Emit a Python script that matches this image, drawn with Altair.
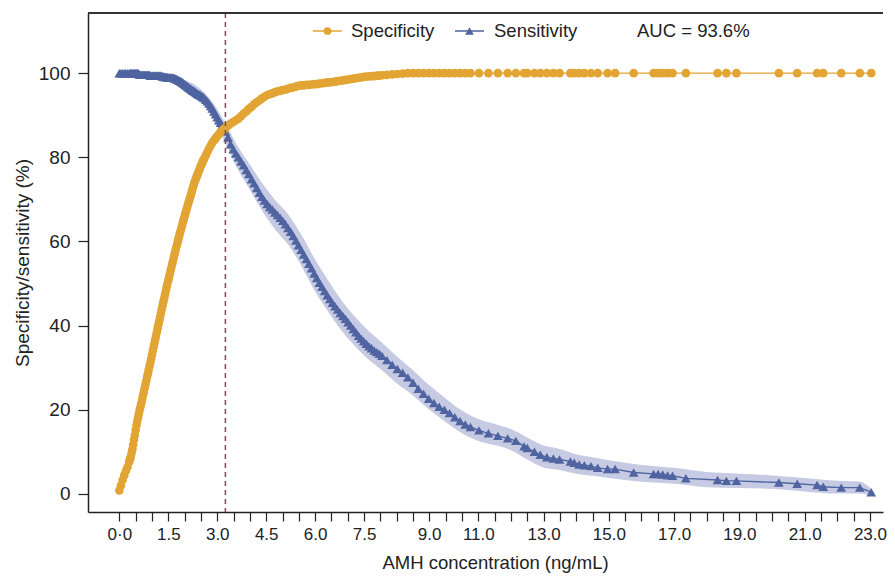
import altair as alt
import pandas as pd

# ---------------- data ----------------
cutoff = [
    0.00, 0.05, 0.10, 0.15, 0.20, 0.25, 0.30, 0.35, 0.40, 0.45,
    0.50, 0.55, 0.60, 0.65, 0.70, 0.75, 0.80, 0.85, 0.90, 0.95,
    1.00, 1.05, 1.10, 1.15, 1.20, 1.25, 1.30, 1.35, 1.40, 1.45,
    1.50, 1.55, 1.60, 1.65, 1.70, 1.75, 1.80, 1.85, 1.90, 1.95,
    2.00, 2.05, 2.10, 2.15, 2.20, 2.25, 2.30, 2.35, 2.40, 2.45,
    2.50, 2.55, 2.60, 2.65, 2.70, 2.75, 2.80, 2.85, 2.90, 2.95,
    3.00, 3.05, 3.10, 3.15, 3.20, 3.25,
    3.33, 3.41, 3.49, 3.57, 3.65, 3.73, 3.81, 3.89, 3.97, 4.05,
    4.13, 4.21, 4.29, 4.37, 4.45, 4.53, 4.61, 4.69, 4.77, 4.85,
    4.93, 5.01, 5.09, 5.17, 5.25, 5.33, 5.41, 5.49, 5.57, 5.65,
    5.73, 5.81, 5.89, 5.97, 6.05, 6.13, 6.21, 6.29, 6.37, 6.45,
    6.53, 6.61, 6.69, 6.77, 6.85, 6.93, 7.01, 7.09, 7.17, 7.25,
    7.33, 7.41, 7.49, 7.57, 7.65, 7.73, 7.81, 7.89, 7.97, 8.05,
    8.20, 8.36, 8.52, 8.68, 8.84, 9.00, 9.16, 9.32, 9.48, 9.64,
    9.80, 9.96, 10.12, 10.28, 10.44, 10.60, 10.76, 11.02, 11.31, 11.60,
    11.90, 12.15, 12.40, 12.50, 12.72, 12.90, 13.10, 13.30,
    13.49, 13.82, 13.94, 14.09, 14.25, 14.45, 14.66, 14.96, 15.19, 15.76,
    16.37, 16.51, 16.65, 16.80, 16.95, 17.36, 18.33, 18.60, 18.91, 20.21,
    20.77, 21.38, 21.57, 22.12, 22.69, 23.04,
]

specificity = [
    0.8, 2.0, 3.3, 4.4, 5.5, 6.4, 7.6, 8.8, 10.6, 12.9,
    15.2, 17.3, 19.1, 20.8, 22.5, 24.2, 26.0, 27.8, 29.5, 31.2,
    33.0, 34.9, 36.7, 38.5, 40.3, 42.1, 43.9, 45.7, 47.4, 49.1,
    50.8, 52.4, 54.0, 55.6, 57.2, 58.8, 60.3, 61.8, 63.2, 64.6,
    66.0, 67.4, 68.7, 70.0, 71.3, 72.7, 74.0, 75.0, 76.0, 77.0,
    78.0, 78.9, 79.7, 80.5, 81.3, 82.1, 82.8, 83.5, 84.0, 84.5,
    85.0, 85.5, 85.9, 86.3, 86.7, 87.0,
    87.5, 88.0, 88.4, 88.8, 89.2, 89.8, 90.4, 90.9, 91.5, 92.0,
    92.6, 93.1, 93.5, 94.0, 94.4, 94.8, 95.0, 95.2, 95.5, 95.7,
    95.8, 96.0, 96.1, 96.3, 96.5, 96.6, 96.8, 97.0, 97.1, 97.1,
    97.2, 97.2, 97.3, 97.4, 97.4, 97.5, 97.6, 97.7, 97.8, 97.8,
    97.9, 98.0, 98.1, 98.2, 98.3, 98.4, 98.5, 98.6, 98.7, 98.8,
    98.9, 99.0, 99.1, 99.2, 99.2, 99.3, 99.3, 99.4, 99.4, 99.5,
    99.6, 99.7, 99.8, 99.9, 100, 100, 100, 100, 100, 100,
    100, 100, 100, 100, 100, 100, 100, 100, 100, 100,
    100, 100, 100, 100, 100, 100, 100, 100,
    100, 100, 100, 100, 100, 100, 100, 100, 100, 100,
    100, 100, 100, 100, 100, 100, 100, 100, 100, 100,
    100, 100, 100, 100, 100, 100,
]

sensitivity = [
    100, 100, 100, 100, 100, 100, 100, 100, 100, 100,
    100, 100, 99.8, 99.6, 99.6, 99.6, 99.6, 99.6, 99.6, 99.4,
    99.4, 99.4, 99.4, 99.4, 99.4, 99.4, 99.3, 99.2, 99.1, 99.1,
    99.0, 99.0, 98.9, 98.9, 98.8, 98.6, 98.4, 98.2, 98.0, 97.7,
    97.4, 97.1, 96.8, 96.5, 96.2, 95.9, 95.7, 95.4, 95.1, 94.9,
    94.7, 94.4, 94.1, 93.7, 93.3, 92.8, 92.2, 91.6, 90.9, 90.2,
    89.5, 88.8, 88.2, 87.6, 86.9, 86.1,
    84.7, 83.1, 81.9, 80.9, 80.0, 79.0, 78.1, 77.0, 76.0, 74.8,
    73.8, 72.7, 71.6, 70.6, 69.7, 68.9, 68.2, 67.6, 66.9, 66.3,
    65.6, 64.9, 64.1, 63.2, 62.3, 61.3, 60.2, 59.1, 58.0, 56.9,
    55.8, 54.7, 53.6, 52.4, 51.3, 50.2, 49.2, 48.2, 47.2, 46.3,
    45.4, 44.6, 43.8, 43.0, 42.3, 41.6, 40.8, 40.0, 39.2, 38.4,
    37.6, 36.9, 36.3, 35.7, 35.1, 34.6, 34.1, 33.7, 33.3, 32.8,
    31.8, 30.7, 29.7, 28.8, 27.7, 26.4, 25.0, 23.8, 22.6, 21.6,
    20.7, 20.0, 19.2, 18.2, 17.3, 16.5, 15.9, 15.1, 14.4, 13.8,
    13.2, 12.6, 11.3, 10.9, 10.0, 9.3, 8.7, 8.4,
    8.2, 7.7, 7.4, 7.0, 6.8, 6.6, 6.2, 5.9, 5.9, 5.1,
    4.75, 4.75, 4.6, 4.4, 4.3, 3.7, 3.3, 3.1, 3.1, 2.7,
    2.4, 2.1, 1.7, 1.5, 1.5, 0.4,
]

# additional cut-offs in the steep low-AMH part of the specificity curve
cutoff_low = [
    0.325, 0.375, 0.425, 0.475, 0.525, 0.575, 0.625, 0.675, 0.725, 0.775,
    0.825, 0.875, 0.925, 0.975, 1.025, 1.075, 1.125, 1.175, 1.225, 1.275,
    1.325, 1.375, 1.425, 1.475, 1.525, 1.575, 1.625, 1.675, 1.725, 1.775,
    1.825, 1.875, 1.925, 1.975, 2.025, 2.075, 2.125, 2.175, 2.225, 2.275,
    2.325, 2.375, 2.425, 2.475, 2.525, 2.575,
]
specificity_low = [
    8.2, 9.7, 11.7, 14.0, 16.3, 18.2, 20.0, 21.6, 23.4, 25.1,
    26.9, 28.6, 30.4, 32.1, 34.0, 35.8, 37.6, 39.4, 41.2, 43.0,
    44.8, 46.5, 48.3, 50.0, 51.6, 53.2, 54.8, 56.4, 58.0, 59.5,
    61.0, 62.5, 63.9, 65.3, 66.7, 68.0, 69.4, 70.6, 72.0, 73.3,
    74.5, 75.5, 76.5, 77.5, 78.4, 79.3,
]
sensitivity_low = [
    100, 100, 100, 100, 100, 100, 99.7, 99.6, 99.6, 99.6,
    99.6, 99.6, 99.6, 99.4, 99.4, 99.4, 99.4, 99.4, 99.4, 99.4,
    99.25, 99.15, 99.1, 99.05, 99.0, 98.95, 98.9, 98.85, 98.7, 98.5,
    98.3, 98.1, 97.85, 97.55, 97.25, 96.95, 96.65, 96.35, 96.05, 95.8,
    95.55, 95.25, 95.0, 94.8, 94.55, 94.25,
]

# confidence band of the sensitivity curve
band_x = [0, 1.0, 2.0, 2.5, 3.0, 3.3, 3.6, 4.0, 4.4, 4.8,
          5.2, 5.6, 6.0, 6.4, 6.8, 7.2, 7.6, 8.0, 8.5, 9.0,
          9.5, 10.0, 10.5, 11.0, 11.5, 12.0, 12.5, 13.0, 13.5, 14.0,
          14.5, 15.0, 16.0, 17.0, 18.0, 19.0, 20.0, 21.0, 22.0, 22.7, 23.04]
band_lo = [99.6, 98.9, 96.4, 93.2, 87.5, 82.5, 77.6, 72.3, 67.0, 62.6,
           59.0, 53.9, 48.1, 43.3, 38.9, 35.3, 32.2, 29.7, 26.3, 23.4,
           20.0, 17.1, 14.4, 12.6, 11.6, 10.4, 8.2, 6.3, 5.7, 4.8,
           4.3, 3.8, 2.9, 2.4, 1.6, 1.4, 1.2, 0.6, 0.1, 0.1, -0.4]
band_hi = [100.4, 99.9, 98.4, 96.2, 91.5, 87.3, 83.0, 78.3, 73.6, 69.6,
           66.2, 61.3, 55.7, 50.7, 46.1, 42.3, 39.0, 36.3, 32.7, 29.4,
           25.8, 22.7, 19.8, 17.8, 16.6, 15.4, 13.4, 11.5, 10.7, 9.4,
           8.7, 8.0, 6.9, 6.2, 5.2, 4.8, 4.4, 3.8, 3.1, 2.9, 1.2]

threshold = [3.25]
legend_labels = ["Specificity", "Sensitivity"]
auc_label = "AUC = 93.6%"

x_label_pos = [0, 1.5, 3, 4.5, 6, 7.5, 9, 11, 13, 15, 17, 19, 21, 23]
x_label_text = ["0·0", "1.5", "3.0", "4.5", "6.0", "7.5", "9.0", "11.0",
                "13.0", "15.0", "17.0", "19.0", "21.0", "23.0"]
x_tick_values = [i * 0.5 for i in range(47)]
y_tick_values = [0, 20, 40, 60, 80, 100]

assert len(cutoff) == len(specificity) == len(sensitivity)
assert len(cutoff_low) == len(specificity_low) == len(sensitivity_low)
assert len(band_x) == len(band_lo) == len(band_hi)

# ---------------- styling ----------------
W, H = 795, 499
ORANGE = "#E2A433"
BLUE = "#4F64A0"
BAND = "#C6CAE3"
DASH = "#7B4A5C"
INK = "#222222"
FONT = "Liberation Sans"

df = pd.DataFrame({
    "cutoff": cutoff + cutoff_low,
    "spec": specificity + specificity_low,
    "sens": sensitivity + sensitivity_low,
}).sort_values("cutoff")
band = pd.DataFrame({"cutoff": band_x, "lo": band_lo, "hi": band_hi})
thr = pd.DataFrame({"cutoff": threshold})

label_expr = " : ".join(
    f"datum.value == {p} ? '{t}'" for p, t in zip(x_label_pos, x_label_text)
) + " : ''"

xscale = alt.Scale(domain=[-0.96, 23.40], nice=False, zero=False)
yscale = alt.Scale(domain=[-4.3, 114.3], nice=False, zero=False)

x_axis = alt.Axis(
    values=x_tick_values, labelExpr=label_expr, grid=False,
    tickSize=9, tickColor=INK, tickWidth=1.2,
    domainColor=INK, domainWidth=1.5,
    labelFont=FONT, labelFontSize=17, labelColor=INK, labelPadding=5,
    labelOverlap=False, labelFlush=False,
    labelOffset={"condition": {"test": "datum.value == 9", "value": 16}, "value": 0},
    titleFont=FONT, titleFontSize=18.5, titleFontWeight="normal",
    titleColor=INK, titlePadding=11, titleX=407,
)
y_axis = alt.Axis(
    values=y_tick_values, grid=False,
    tickSize=10, tickColor=INK, tickWidth=1.2,
    domainColor=INK, domainWidth=1.5,
    labelFont=FONT, labelFontSize=19, labelColor=INK, labelPadding=8,
    titleFont=FONT, titleFontSize=19, titleFontWeight="normal",
    titleColor=INK, titlePadding=6,
)


def X(field):
    return alt.X(f"{field}:Q", scale=xscale, axis=x_axis,
                 title="AMH concentration (ng/mL)")


def Y(field):
    return alt.Y(f"{field}:Q", scale=yscale, axis=y_axis,
                 title="Specificity/sensitivity (%)")


band_layer = alt.Chart(band).mark_area(color=BAND, opacity=1, interpolate="monotone").encode(
    x=X("cutoff"), y=Y("lo"), y2="hi:Q")

sens_line = alt.Chart(df).mark_line(color=BLUE, strokeWidth=1.4).encode(
    x=X("cutoff"), y=Y("sens"))
sens_pts = alt.Chart(df).mark_point(shape="triangle-up", filled=True, size=95,
                                    color=BLUE, opacity=1).encode(
    x=X("cutoff"), y=Y("sens"))

spec_line = alt.Chart(df).mark_line(color=ORANGE, strokeWidth=1.3).encode(
    x=X("cutoff"), y=Y("spec"))
spec_pts = alt.Chart(df).mark_point(shape="circle", filled=True, size=75,
                                    color=ORANGE, opacity=1).encode(
    x=X("cutoff"), y=Y("spec"))

thr_rule = alt.Chart(thr).mark_rule(color=DASH, strokeDash=[5, 4], strokeWidth=1.5).encode(
    x=X("cutoff"))

top_border = alt.Chart(thr).mark_rule(color="#333333", strokeWidth=2).encode(
    x=alt.value(0), x2=alt.value(W), y=alt.value(0))

# legend (drawn inside the plot, top centre)
LY = 18
leg_spec_line = alt.Chart(thr).mark_rule(color=ORANGE, strokeWidth=1.5).encode(
    x=alt.value(224.7), x2=alt.value(253.7), y=alt.value(LY))
leg_spec_pt = alt.Chart(thr).mark_point(shape="circle", filled=True, size=60,
                                        color=ORANGE, opacity=1).encode(
    x=alt.value(239.5), y=alt.value(LY))
leg_spec_txt = alt.Chart(thr).mark_text(align="left", baseline="middle", font=FONT,
                                        fontSize=18.5, color=INK).encode(
    x=alt.value(263), y=alt.value(LY), text=alt.value(legend_labels[0]))
leg_sens_line = alt.Chart(thr).mark_rule(color=BLUE, strokeWidth=1.5).encode(
    x=alt.value(367), x2=alt.value(396), y=alt.value(LY))
leg_sens_pt = alt.Chart(thr).mark_point(shape="triangle-up", filled=True, size=75,
                                        color=BLUE, opacity=1).encode(
    x=alt.value(381.5), y=alt.value(LY))
leg_sens_txt = alt.Chart(thr).mark_text(align="left", baseline="middle", font=FONT,
                                        fontSize=18.5, color=INK).encode(
    x=alt.value(406), y=alt.value(LY), text=alt.value(legend_labels[1]))
auc_txt = alt.Chart(thr).mark_text(align="left", baseline="middle", font=FONT,
                                   fontSize=18.5, color=INK).encode(
    x=alt.value(549), y=alt.value(LY), text=alt.value(auc_label))

chart = alt.layer(
    band_layer, sens_line, sens_pts, spec_line, spec_pts, thr_rule, top_border,
    leg_spec_line, leg_spec_pt, leg_spec_txt, leg_sens_line, leg_sens_pt,
    leg_sens_txt, auc_txt,
).properties(
    width=W, height=H,
    autosize=alt.AutoSizeParams(type="none"),
    padding={"left": 80, "top": 5, "right": 4, "bottom": 63},
    background="white",
).configure_view(stroke=None)

chart.save("out.html", embed_options={"renderer": "svg", "actions": False})
